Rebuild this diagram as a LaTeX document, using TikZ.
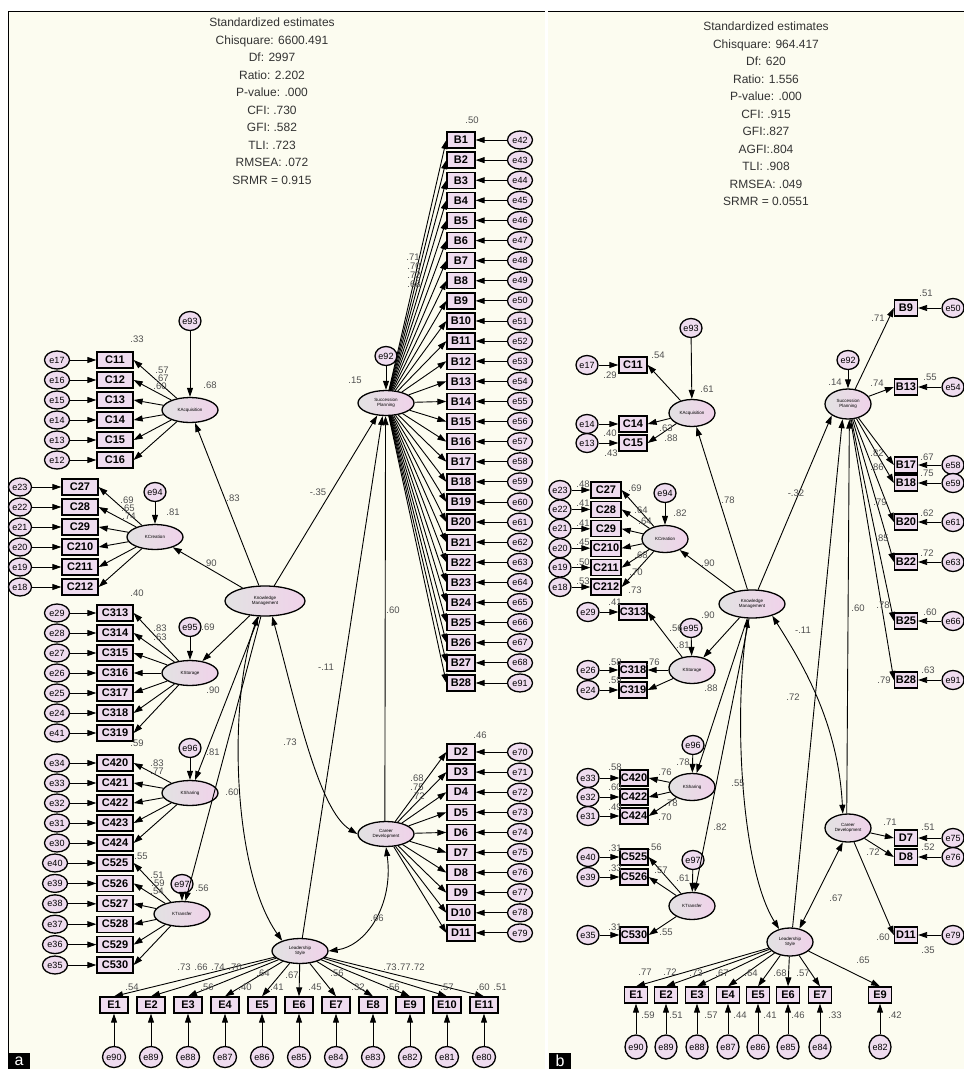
\documentclass[tikz,border=0pt]{standalone}
\usepackage{fontspec}
\setmainfont{Liberation Sans}
\usetikzlibrary{arrows.meta,shapes.geometric}
\definecolor{paper}{HTML}{FCFCF0}
\definecolor{boxpink}{HTML}{EFDCEF}
\definecolor{latgray}{HTML}{E2E2E2}
\definecolor{latpink}{HTML}{F0D2EA}
\definecolor{estgray}{HTML}{505050}
\begin{document}
\begin{tikzpicture}[x=1pt,y=-1pt,
  obs/.style={draw,line width=1.3pt,fill=boxpink,minimum width=28pt,minimum height=16pt,inner sep=0pt,font=\fontsize{11}{11}\selectfont\bfseries},
  wide/.style={minimum width=36pt},
  slim/.style={minimum width=23pt},
  err/.style={ellipse,draw,line width=1.3pt,fill=boxpink,minimum width=25pt,minimum height=18pt,inner sep=0pt,font=\fontsize{9}{9}\selectfont},
  small/.style={minimum width=22pt,minimum height=19pt},
  lat/.style={ellipse,draw,line width=1.3pt,left color=latgray,right color=latpink,minimum width=56pt,minimum height=25pt,inner sep=0pt,align=center,font=\fontsize{4.5}{5}\selectfont},
  est/.style={font=\fontsize{9.5}{9.5}\selectfont,text=estgray,inner sep=0pt},
  stats/.style={font=\fontsize{12}{17.5}\selectfont,text=black!80,align=center,inner sep=0pt},
  arr/.style={-{Triangle[length=9pt,width=6pt]},line width=0.9pt},
  darr/.style={{Triangle[length=9pt,width=6pt]}-{Triangle[length=9pt,width=6pt]},line width=0.9pt},
  tag/.style={fill=black,text=white,font=\fontsize{16}{16}\selectfont,minimum width=22pt,minimum height=17pt,inner sep=0pt}
]
\useasboundingbox (0,0) rectangle (964,1069);
\fill[white] (0,0) rectangle (964,1069);
\fill[paper] (8,11) rectangle (545,1069);
\fill[paper] (548,11) rectangle (964,1069);
\draw[line width=1pt] (8,1069) -- (8,11) -- (545,11);
\draw[line width=1pt] (548,11) -- (964,11);

%%%%% panel a
\node[stats] (astats) at (272,101) {Standardized estimates\\Chisquare: 6600.491\\Df: 2997\\Ratio: 2.202\\P-value: .000\\CFI: .730\\GFI: .582\\TLI: .723\\RMSEA: .072\\SRMR = 0.915};

\node[lat,minimum width=80pt,minimum height=30pt] (aKM) at (265,601) {Knowledge\\Management};
\node[lat] (aKAcq) at (190,410) {KAcquisition};
\node[lat] (aKCre) at (155,537) {KCreation};
\node[lat] (aKSto) at (190,673) {KStorage};
\node[lat] (aKSha) at (190,793) {KSharing};
\node[lat] (aKTra) at (182,914) {KTransfer};
\node[lat] (aSP) at (386,403) {Succession\\Planning};
\node[lat] (aCD) at (386,834) {Career\\Development};
\node[lat] (aLS) at (300,951) {Leadership\\Style};

\node[err,small] (ae93) at (190,321) {e93};
\node[err,small] (ae94) at (155,492) {e94};
\node[err,small] (ae95) at (190,627) {e95};
\node[err,small] (ae96) at (190,748) {e96};
\node[err,small] (ae97) at (182,884) {e97};
\node[err,small] (ae92) at (386,356) {e92};
\draw[arr] (ae93) -- (aKAcq);
\draw[arr] (ae94) -- (aKCre);
\draw[arr] (ae95) -- (aKSto);
\draw[arr] (ae96) -- (aKSha);
\draw[arr] (ae97) -- (aKTra);
\draw[arr] (ae92) -- (aSP);

% structural part
\draw[arr] (aKM) -- (aKAcq);
\draw[arr] (aKM) -- (aKCre);
\draw[arr] (aKM) -- (aKSto);
\draw[arr] (aKM) -- (aKSha);
\draw[arr] (aKM) -- (aKTra);
\draw[arr] (aKM) -- (aSP.235);
\draw[arr] (aLS.80) -- (aSP.255);
\draw[arr] (aCD.95) -- (aSP.268);
\draw[darr] (aKM.245) .. controls (228,700) and (232,870) .. (aLS.150);
\draw[darr] (aKM.295) .. controls (295,700) and (318,810) .. (aCD.west);
\draw[darr] (aCD.south) .. controls (394,905) and (366,946) .. (aLS.east);

% indicators
\foreach \nm/\er [count=\k from 0] in {C11/e17,C12/e16,C13/e15,C14/e14,C15/e13,C16/e12}{
  \node[obs,wide] (a\nm) at (115,360+20*\k) {\nm};
  \node[err] (ae\nm) at (57,360+20*\k) {\er};
  \draw[arr] (ae\nm) -- (a\nm);
  \draw[arr] (aKAcq) -- (a\nm.east);
}
\foreach \nm/\er [count=\k from 0] in {C27/e23,C28/e22,C29/e21,C210/e20,C211/e19,C212/e18}{
  \node[obs,wide] (a\nm) at (80,487+20*\k) {\nm};
  \node[err,minimum width=23pt] (ae\nm) at (20,487+20*\k) {\er};
  \draw[arr] (ae\nm) -- (a\nm);
  \draw[arr] (aKCre) -- (a\nm.east);
}
\foreach \nm/\er [count=\k from 0] in {C313/e29,C314/e28,C315/e27,C316/e26,C317/e25,C318/e24,C319/e41}{
  \node[obs,wide] (a\nm) at (115,613+20*\k) {\nm};
  \node[err] (ae\nm) at (57,613+20*\k) {\er};
  \draw[arr] (ae\nm) -- (a\nm);
  \draw[arr] (aKSto) -- (a\nm.east);
}
\foreach \nm/\er [count=\k from 0] in {C420/e34,C421/e33,C422/e32,C423/e31,C424/e30}{
  \node[obs,wide] (a\nm) at (115,763+20*\k) {\nm};
  \node[err] (ae\nm) at (57,763+20*\k) {\er};
  \draw[arr] (ae\nm) -- (a\nm);
  \draw[arr] (aKSha) -- (a\nm.east);
}
\foreach \nm/\er [count=\k from 0] in {C525/e40,C526/e39,C527/e38,C528/e37,C529/e36,C530/e35}{
  \node[obs,wide] (a\nm) at (115,863+20.4*\k) {\nm};
  \node[err] (ae\nm) at (55,863+20.4*\k) {\er};
  \draw[arr] (ae\nm) -- (a\nm);
  \draw[arr] (aKTra) -- (a\nm.east);
}
\foreach \nm/\er [count=\k from 0] in {B1/e42,B2/e43,B3/e44,B4/e45,B5/e46,B6/e47,B7/e48,B8/e49,B9/e50,B10/e51,B11/e52,B12/e53,B13/e54,B14/e55,B15/e56,B16/e57,B17/e58,B18/e59,B19/e60,B20/e61,B21/e62,B22/e63,B23/e64,B24/e65,B25/e66,B26/e67,B27/e68,B28/e91}{
  \node[obs] (a\nm) at (461,140+20.11*\k) {\nm};
  \node[err] (ae\nm) at (520,140+20.11*\k) {\er};
  \draw[arr] (ae\nm) -- (a\nm);
  \draw[arr] (aSP) -- (a\nm.west);
}
\foreach \nm/\er [count=\k from 0] in {D2/e70,D3/e71,D4/e72,D5/e73,D6/e74,D7/e75,D8/e76,D9/e77,D10/e78,D11/e79}{
  \node[obs] (a\nm) at (461,752+20.1*\k) {\nm};
  \node[err] (ae\nm) at (520,752+20.1*\k) {\er};
  \draw[arr] (ae\nm) -- (a\nm);
  \draw[arr] (aCD) -- (a\nm.west);
}
\foreach \nm/\er [count=\k from 0] in {E1/e90,E2/e89,E3/e88,E4/e87,E5/e86,E6/e85,E7/e84,E8/e83,E9/e82,E10/e81,E11/e80}{
  \node[obs] (a\nm) at (114+37*\k,1005) {\nm};
  \node[err,minimum width=23pt,minimum height=21pt] (ae\nm) at (114+37*\k,1057) {\er};
  \draw[arr] (ae\nm) -- (a\nm);
  \draw[arr] (aLS) -- (a\nm.north);
}

% estimates
\foreach \t/\xx/\yy [count=\n] in {.50/472/120,.71/413/257,.70/414/266,.72/414/275,.68/414/284,.15/355/380,-.35/318/492,.60/393/610,-.11/326/667,.73/290/742,.66/377/918,.60/232/792,.46/480/735,.68/417/778,.75/417/787,.72/418/796,.33/137/339,.57/162/370,.67/162/378,.60/160/386,.68/210/385,.83/233/498,.90/210/563,.69/127/500,.65/128/508,.74/129/516,.81/173/512,.40/137/593,.83/160/628,.63/160/637,.69/208/627,.90/213/690,.59/137/743,.83/157/763,.77/157/771,.81/213/752,.55/141/856,.51/157/875,.59/158/883,.54/157/891,.56/202/888,.73/184/967,.66/201/967,.74/218/967,.70/235/967,.64/263/973,.67/292/975,.56/337/973,.73/390/967,.77/404/967,.72/418/967,.54/132/987,.56/207/987,.40/245/987,.41/277/987,.45/315/987,.32/358/987,.56/393/987,.57/447/987,.60/483/987,.51/500/987}{
  \node[est] (aest\n) at (\xx,\yy) {\t};
}

\node[tag] (atag) at (19,1061) {a};

%%%%% panel b
\node[stats] (bstats) at (766,114) {Standardized estimates\\Chisquare: 964.417\\Df: 620\\Ratio: 1.556\\P-value: .000\\CFI: .915\\GFI:.827\\AGFI:.804\\TLI: .908\\RMSEA: .049\\SRMR = 0.0551};

\node[lat,minimum width=66pt,minimum height=28pt] (bKM) at (752,604) {Knowledge\\Management};
\node[lat,minimum width=46pt,minimum height=27pt] (bKAcq) at (692,413) {KAcquisition};
\node[lat,minimum width=46pt,minimum height=27pt] (bKCre) at (665,539) {KCreation};
\node[lat,minimum width=46pt,minimum height=27pt] (bKSto) at (692,670) {KStorage};
\node[lat,minimum width=46pt,minimum height=27pt] (bKSha) at (692,787) {KSharing};
\node[lat,minimum width=46pt,minimum height=27pt] (bKTra) at (692,906) {KTransfer};
\node[lat,minimum width=46pt,minimum height=30pt] (bSP) at (848,404) {Succession\\Planning};
\node[lat,minimum width=46pt,minimum height=28pt] (bCD) at (848,828) {Career\\Development};
\node[lat,minimum width=46pt,minimum height=28pt] (bLS) at (790,942) {Leadership\\Style};

\node[err,small] (be93) at (691,328) {e93};
\node[err,small] (be94) at (665,493) {e94};
\node[err,small] (be95) at (691,628) {e95};
\node[err,small] (be96) at (693,745) {e96};
\node[err,small] (be97) at (693,860) {e97};
\node[err,small] (be92) at (848,360) {e92};
\draw[arr] (be93) -- (bKAcq);
\draw[arr] (be94) -- (bKCre);
\draw[arr] (be95) -- (bKSto);
\draw[arr] (be96) -- (bKSha);
\draw[arr] (be97) -- (bKTra);
\draw[arr] (be92) -- (bSP);

% structural part
\draw[arr] (bKM) -- (bKAcq);
\draw[arr] (bKM) -- (bKCre);
\draw[arr] (bKM) -- (bKSto);
\draw[arr] (bKM) -- (bKSha);
\draw[arr] (bKM) -- (bKTra);
\draw[arr] (bKM) -- (bSP.215);
\draw[arr] (bLS.80) -- (bSP.250);
\draw[arr] (bCD.95) -- (bSP.275);
\draw[darr] (bKM.255) .. controls (733,720) and (742,870) .. (bLS.130);
\draw[darr] (bKM.330) .. controls (800,660) and (838,720) .. (bCD.110);
\draw[darr] (bCD.250) -- (bLS.55);

% indicators
\foreach \nm/\er/\yy in {C11/e17/365,C14/e14/424,C15/e13/443}{
  \node[obs] (b\nm) at (633,\yy) {\nm};
  \node[err,small] (be\nm) at (587,\yy) {\er};
  \draw[arr] (be\nm) -- (b\nm);
  \draw[arr] (bKAcq) -- (b\nm.east);
}
\foreach \nm/\er [count=\k from 0] in {C27/e23,C28/e22,C29/e21,C210/e20,C211/e19,C212/e18}{
  \node[obs,minimum width=30pt] (b\nm) at (606,490+19.4*\k) {\nm};
  \node[err,small] (be\nm) at (560,490+19.4*\k) {\er};
  \draw[arr] (be\nm) -- (b\nm);
  \draw[arr] (bKCre) -- (b\nm.east);
}
\foreach \nm/\er/\yy in {C313/e29/612,C318/e26/670,C319/e24/690}{
  \node[obs] (b\nm) at (633,\yy) {\nm};
  \node[err,small] (be\nm) at (588,\yy) {\er};
  \draw[arr] (be\nm) -- (b\nm);
  \draw[arr] (bKSto) -- (b\nm.east);
}
\foreach \nm/\er/\yy in {C420/e33/778,C422/e32/797,C424/e31/816}{
  \node[obs] (b\nm) at (634,\yy) {\nm};
  \node[err,small] (be\nm) at (588,\yy) {\er};
  \draw[arr] (be\nm) -- (b\nm);
  \draw[arr] (bKSha) -- (b\nm.east);
}
\foreach \nm/\er/\yy in {C525/e40/857,C526/e39/877,C530/e35/935}{
  \node[obs] (b\nm) at (634,\yy) {\nm};
  \node[err,small] (be\nm) at (588,\yy) {\er};
  \draw[arr] (be\nm) -- (b\nm);
  \draw[arr] (bKTra) -- (b\nm.east);
}
\foreach \nm/\er/\yy in {B9/e50/308,B13/e54/387,B17/e58/465,B18/e59/483,B20/e61/522,B22/e63/562,B25/e66/621,B28/e91/680}{
  \node[obs,slim] (b\nm) at (906,\yy) {\nm};
  \node[err,small] (be\nm) at (953,\yy) {\er};
  \draw[arr] (be\nm) -- (b\nm);
  \draw[arr] (bSP) -- (b\nm.west);
}
\foreach \nm/\er/\yy in {D7/e75/838,D8/e76/857,D11/e79/935}{
  \node[obs,slim] (b\nm) at (906,\yy) {\nm};
  \node[err,small] (be\nm) at (953,\yy) {\er};
  \draw[arr] (be\nm) -- (b\nm);
  \draw[arr] (bCD) -- (b\nm.west);
}
\foreach \nm/\er/\xx in {E1/e90/636,E2/e89/666,E3/e88/697,E4/e87/728,E5/e86/758,E6/e85/788,E7/e84/820,E9/e82/880}{
  \node[obs,slim] (b\nm) at (\xx,995) {\nm};
  \node[err,minimum width=22pt,minimum height=24pt] (be\nm) at (\xx,1047) {\er};
  \draw[arr] (be\nm) -- (b\nm);
  \draw[arr] (bLS) -- (b\nm.north);
}

% estimates
\foreach \t/\xx/\yy [count=\n] in {.14/835/382,.71/878/318,.51/926/293,.74/877/383,.55/930/377,.82/877/453,.86/877/467,.67/927/457,.75/927/473,.79/880/502,.62/927/513,.85/882/538,.72/927/553,.78/883/605,.60/930/612,.79/884/680,.63/928/670,.61/707/389,.54/658/355,.29/610/375,.63/666/428,.88/671/438,.40/610/433,.43/611/453,.82/680/513,.48/583/484,.41/583/503,.41/583/523,.45/583/542,.50/583/562,.53/583/581,.69/635/488,.64/641/510,.64/645/521,.68/641/555,.70/636/572,.73/635/590,.90/708/563,.78/728/500,-.32/796/493,.41/615/602,.56/676/628,.90/708/615,.81/683/645,.76/653/662,.58/615/662,.59/615/680,.88/711/688,.78/683/762,.58/615/767,.60/615/787,.49/615/807,.76/665/772,.78/671/803,.70/665/817,.55/738/783,.82/720/827,.72/793/697,.61/683/878,.31/615/848,.33/615/868,.31/615/927,.56/655/847,.57/661/870,.55/666/932,.71/890/822,.51/928/827,.52/928/847,.72/873/852,.60/883/937,.35/928/950,.67/836/898,.60/858/608,-.11/803/630,.77/645/972,.72/670/972,.73/696/973,.67/722/973,.64/751/973,.68/780/973,.57/803/973,.65/863/960,.59/648/1015,.51/676/1015,.57/711/1015,.44/740/1015,.41/770/1015,.46/798/1015,.33/835/1015,.42/895/1015}{
  \node[est] (best\n) at (\xx,\yy) {\t};
}

\node[tag] (btag) at (560,1061) {b};
\end{tikzpicture}
\end{document}
